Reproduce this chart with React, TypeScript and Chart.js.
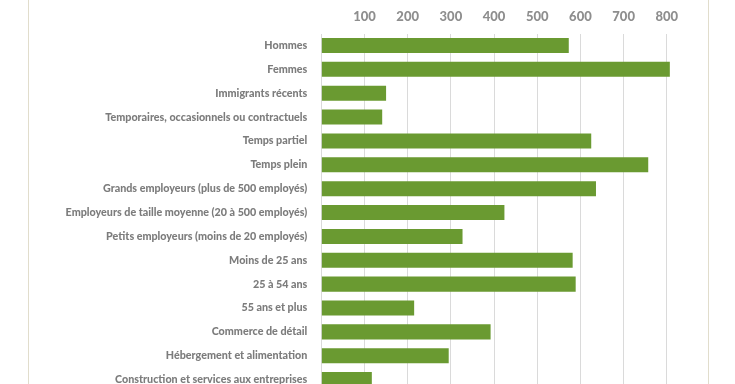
import React, { useEffect, useRef } from "react";
import { Chart, registerables } from "chart.js";

Chart.register(...registerables);

const categories: string[] = [
  "Hommes",
  "Femmes",
  "Immigrants récents",
  "Temporaires, occasionnels ou contractuels",
  "Temps partiel",
  "Temps plein",
  "Grands employeurs (plus de 500 employés)",
  "Employeurs de taille moyenne (20 à 500 employés)",
  "Petits employeurs (moins de 20 employés)",
  "Moins de 25 ans",
  "25 à 54 ans",
  "55 ans et plus",
  "Commerce de détail",
  "Hébergement et alimentation",
  "Construction et services aux entreprises",
];

const values: number[] = [573, 807, 150, 141, 625, 757, 636, 424, 327, 582, 589, 215, 392, 295, 117];

const tickLabels: number[] = [100, 200, 300, 400, 500, 600, 700, 800];

const BAR_COLOR = "#6a9a31";
const TEXT_COLOR = "#7c7c7c";
const TICK_COLOR = "#8e8e8e";
const GRID_COLOR = "#dadada";
const FRAME_COLOR = "#e1ddcc";
const FONT = "Lato, 'DejaVu Sans Condensed', sans-serif";
const WEIGHT = "900";
const TARGET_LABEL_WIDTH = 242;

function labelFontSize(): number {
  const c = document.createElement("canvas");
  const ctx = c.getContext("2d");
  if (!ctx) return 11;
  ctx.font = `${WEIGHT} 10px ${FONT}`;
  let w = 0;
  for (const s of categories) w = Math.max(w, ctx.measureText(s).width);
  if (!w) return 11;
  const s = (10 * TARGET_LABEL_WIDTH) / w;
  return Math.max(9, Math.min(13, s));
}

export default function App() {
  const canvasRef = useRef<HTMLCanvasElement | null>(null);

  useEffect(() => {
    document.body.style.margin = "0";
    const canvas = canvasRef.current;
    if (!canvas) return;
    const size = labelFontSize();
    const chart = new Chart(canvas, {
      type: "bar",
      data: {
        labels: categories,
        datasets: [
          {
            data: values,
            backgroundColor: BAR_COLOR,
            borderWidth: 0,
            barPercentage: 0.63,
            categoryPercentage: 1,
          },
        ],
      },
      options: {
        indexAxis: "y",
        responsive: false,
        animation: false,
        devicePixelRatio: 1,
        layout: { padding: { top: 0, right: 25, bottom: 2.5, left: 0 } },
        plugins: {
          legend: { display: false },
          tooltip: { enabled: false },
        },
        scales: {
          x: {
            position: "top",
            min: 0,
            max: 900,
            afterFit: (scale: any) => {
              scale.height = 33.5;
            },
            ticks: {
              stepSize: 100,
              padding: 9,
              color: TICK_COLOR,
              font: { family: FONT, size: 13, weight: WEIGHT },
              callback: (v: any) => (tickLabels.includes(Number(v)) ? String(v) : ""),
            },
            grid: {
              drawTicks: false,
              color: (ctx: any) => (ctx.tick && ctx.tick.value === 900 ? "rgba(0,0,0,0)" : GRID_COLOR),
              lineWidth: 1,
            },
            border: { display: false },
          },
          y: {
            afterFit: (scale: any) => {
              scale.width = 321.3;
            },
            ticks: {
              padding: 14,
              color: TEXT_COLOR,
              font: { family: FONT, size, weight: WEIGHT },
            },
            grid: { display: false, drawTicks: false },
            border: { display: false },
          },
        },
      },
    });
    return () => chart.destroy();
  }, []);

  return (
    <div style={{ position: "relative", width: 735, height: 384, overflow: "hidden", background: "#fff" }}>
      <canvas ref={canvasRef} width={735} height={412} style={{ position: "absolute", left: 0, top: 0 }} />
      <div style={{ position: "absolute", left: 28, top: 0, width: 1, height: 384, background: FRAME_COLOR }} />
      <div style={{ position: "absolute", left: 708, top: 0, width: 1, height: 384, background: FRAME_COLOR }} />
    </div>
  );
}
